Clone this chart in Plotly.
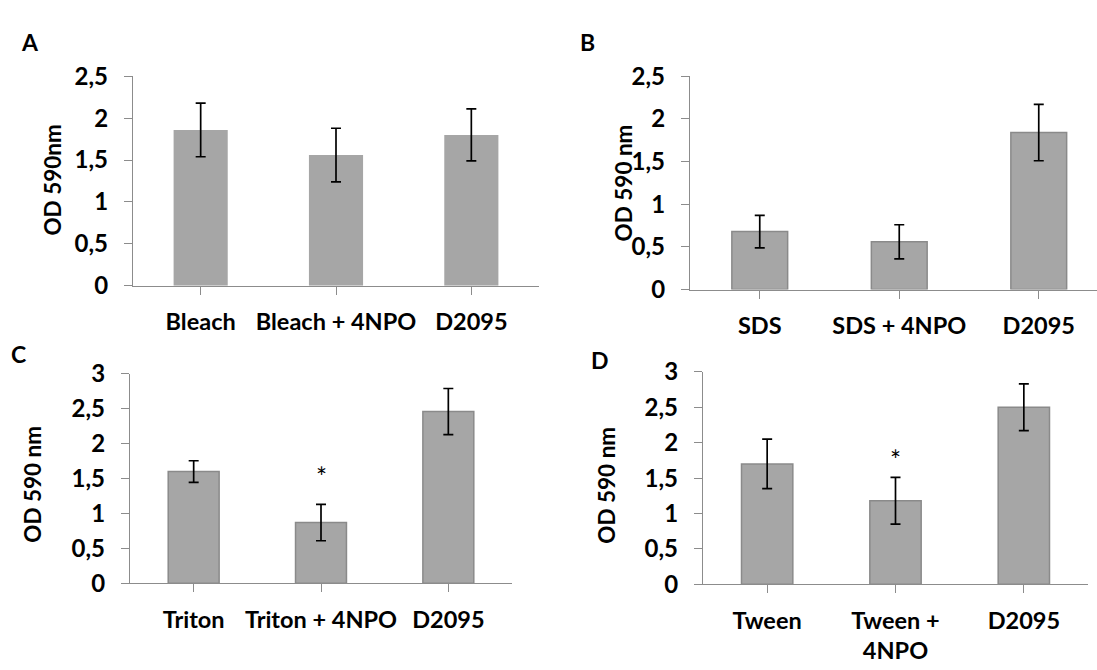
import plotly.graph_objects as go

# ---- data ----
cats_a = ["Bleach", "Bleach + 4NPO", "D2095"]
vals_a = [1.86, 1.56, 1.80]
errs_a = [0.32, 0.32, 0.31]

cats_b = ["SDS", "SDS + 4NPO", "D2095"]
vals_b = [0.68, 0.56, 1.84]
errs_b = [0.19, 0.20, 0.33]

cats_c = ["Triton", "Triton + 4NPO", "D2095"]
vals_c = [1.60, 0.87, 2.46]
errs_c = [0.155, 0.26, 0.33]

cats_d = ["Tween", "Tween +<br>4NPO", "D2095"]
vals_d = [1.70, 1.18, 2.50]
errs_d = [0.35, 0.33, 0.33]

ticks_25 = [0, 0.5, 1, 1.5, 2, 2.5]
ticklabels_25 = ["0", "0,5", "1", "1,5", "2", "2,5"]
ticks_3 = [0, 0.5, 1, 1.5, 2, 2.5, 3]
ticklabels_3 = ["0", "0,5", "1", "1,5", "2", "2,5", "3"]

stars_c = {"x": 1, "y": 1.52}
stars_d = {"x": 1, "y": 1.75}

W, H = 1097, 670
FONT = "Lato"
BAR = "#a6a6a6"
EDGE = "#8a8a8a"
AX = "#8c8c8c"


def px_x(p):
    return p / W


def px_y(p):
    return 1 - p / H


fig = go.Figure()

panels = [
    ("x", "y", cats_a, vals_a, errs_a, 0),
    ("x2", "y2", cats_b, vals_b, errs_b, 1.5),
    ("x3", "y3", cats_c, vals_c, errs_c, 1.5),
    ("x4", "y4", cats_d, vals_d, errs_d, 1.5),
]
for xa, ya, cats, vals, errs, lw in panels:
    fig.add_trace(go.Bar(
        x=list(range(len(cats))), y=vals, xaxis=xa, yaxis=ya, width=0.4,
        marker=dict(color=BAR, line=dict(color=EDGE, width=lw)),
        error_y=dict(type="data", array=errs, visible=True, color="black",
                     thickness=1.7, width=5),
        showlegend=False, hoverinfo="skip",
    ))

xtickfont = dict(family=FONT, size=23.5, color="black", weight="bold")
ytickfont = dict(family=FONT, size=24, color="black", weight="bold")


def xaxis(domain, anchor, cats, rng):
    return dict(domain=domain, anchor=anchor, range=rng,
                tickmode="array", tickvals=list(range(len(cats))), ticktext=cats,
                tickson="boundaries", ticks="outside", ticklen=8, tickwidth=1.3,
                tickcolor=AX, showline=True, linecolor=AX, linewidth=1.3,
                showgrid=False, zeroline=False, tickfont=xtickfont,
                ticklabelstandoff=7, fixedrange=True)


def yaxis(domain, anchor, tv, tt, rng):
    return dict(domain=domain, anchor=anchor, range=rng,
                tickmode="array", tickvals=tv, ticktext=tt,
                ticks="outside", ticklen=8, tickwidth=1.3, tickcolor=AX,
                showline=True, linecolor=AX, linewidth=1.3,
                showgrid=False, zeroline=False, tickfont=ytickfont,
                ticklabelstandoff=11, fixedrange=True)


# pixel geometry of each panel
fig.update_layout(
    xaxis=xaxis([px_x(133), px_x(539)], "y", cats_a, [-0.5, 2.5]),
    yaxis=yaxis([px_y(282), px_y(63)], "x", ticks_25, ticklabels_25, [0, 2.5]),
    xaxis2=xaxis([px_x(690), 1.0], "y2", cats_b, [-0.5, -0.5 + (W - 690) / 139.5]),
    yaxis2=yaxis([px_y(286), px_y(63)], "x2", ticks_25, ticklabels_25, [0, 2.5]),
    xaxis3=xaxis([px_x(130), px_x(512)], "y3", cats_c, [-0.5, 2.5]),
    yaxis3=yaxis([px_y(593), px_y(374)], "x3", ticks_3, ticklabels_3, [0, 3]),
    xaxis4=xaxis([px_x(703), px_x(1088)], "y4", cats_d, [-0.5, 2.5]),
    yaxis4=yaxis([px_y(594), px_y(372)], "x4", ticks_3, ticklabels_3, [0, 3]),
)

annfont = dict(family=FONT, size=23, color="black", weight="bold")
anns = []
# panel letters
for letter, x, y in [("A", 30, 27), ("B", 587, 27), ("C", 18, 353), ("D", 600, 360)]:
    anns.append(dict(text=letter, x=px_x(x), y=px_y(y), xref="paper", yref="paper",
                     showarrow=False, xanchor="center", yanchor="middle", font=annfont))
# y-axis titles
for t, x, y in [("OD 590nm", 53, 172), ("OD 590 nm", 623, 174),
                ("OD 590 nm", 33, 490), ("OD 590 nm", 607, 491)]:
    anns.append(dict(text=t, x=px_x(x), y=px_y(y), xref="paper", yref="paper",
                     showarrow=False, textangle=-90, xanchor="center", yanchor="middle",
                     font=dict(family=FONT, size=22.5, color="black", weight="bold")))
# significance stars
for st, xr, yr in [(stars_c, "x3", "y3"), (stars_d, "x4", "y4")]:
    anns.append(dict(text="*", x=st["x"], y=st["y"], xref=xr, yref=yr, showarrow=False,
                     xanchor="center", yanchor="middle",
                     font=dict(family=FONT, size=26, color="black")))

fig.update_layout(
    annotations=anns,
    width=W, height=H,
    margin=dict(l=0, r=0, t=0, b=0),
    paper_bgcolor="white", plot_bgcolor="white",
    bargap=0.6,
)

fig.write_html("out.html", config={"displayModeBar": False})
